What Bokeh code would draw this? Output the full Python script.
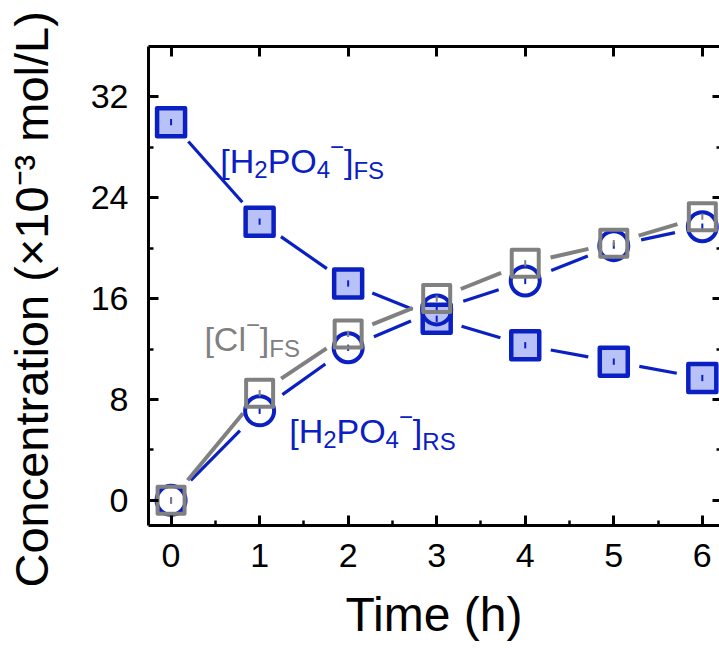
import math
from bokeh.plotting import figure
from bokeh.models import Range1d, LinearAxis, FixedTicker, Label, Title
from bokeh.embed import file_html
from bokeh.resources import INLINE

# ---------------- data ----------------
time_h = [0, 1, 2, 3, 4, 5, 6]
h2po4_fs = [30.0, 22.1, 17.2, 14.4, 12.3, 11.0, 9.7]
cl_fs = [0.0, 8.5, 13.2, 16.0, 18.8, 20.4, 22.5]
h2po4_rs = [0.0, 7.1, 12.1, 15.1, 17.4, 20.2, 21.7]
err_h2po4_fs = [0.25, 0.25, 0.25, 0.25, 0.25, 0.25, 0.25]
err_cl_fs = [0.25, 0.25, 0.25, 0.25, 0.25, 0.25, 0.25]
err_h2po4_rs = [0.25, 0.25, 0.25, 0.25, 0.25, 0.25, 0.25]
x_ticks = [0, 1, 2, 3, 4, 5, 6]
x_minor = [0.5, 1.5, 2.5, 3.5, 4.5, 5.5]
y_ticks = [0, 8, 16, 24, 32]
y_minor = [4, 12, 20, 28]
x_title = "Time (h)"
y_title = "Concentration (\u00d710\u207b\u00b3 mol/L)"

# ---------------- layout ----------------
W, H = 719, 648
BL, BR, BT, BB = 147, 0, 46, 123   # frame borders in page pixels
X0, X1 = -0.255, 6.194
Y0, Y1 = -2.0, 36.0
SX = (W - BL - BR) / (X1 - X0)
SY = (H - BT - BB) / (Y1 - Y0)

BLUE = "#0a20c2"
LIGHT = "#b8c2f8"
GRAY = "#808080"
FONT = "Liberation Sans"


def dx(px):
    return X0 + (px - BL) / SX


def dy(py):
    return Y0 + (H - BB - py) / SY


p = figure(width=W, height=H, x_range=Range1d(X0, X1), y_range=Range1d(Y0, Y1),
           output_backend="svg", toolbar_location=None,
           min_border_left=BL, min_border_right=BR, min_border_top=BT, min_border_bottom=BB,
           outline_line_color=None, background_fill_color="white", border_fill_color="white")
p.grid.visible = False

top_axis = LinearAxis()
right_axis = LinearAxis()
p.add_layout(top_axis, "above")
p.add_layout(right_axis, "right")

for ax in [p.below[0], top_axis]:
    ax.ticker = FixedTicker(ticks=x_ticks, minor_ticks=x_minor)
for ax in [p.left[0], right_axis]:
    ax.ticker = FixedTicker(ticks=y_ticks, minor_ticks=y_minor)

for ax in [p.below[0], p.left[0], top_axis, right_axis]:
    ax.axis_line_width = 3
    ax.axis_line_color = "black"
    ax.major_tick_line_width = 3
    ax.minor_tick_line_width = 2.5
    ax.major_tick_line_color = "black"
    ax.minor_tick_line_color = "black"
    ax.major_tick_in = 10
    ax.major_tick_out = 0
    ax.minor_tick_in = 5
    ax.minor_tick_out = 0
    ax.major_label_text_font = FONT
    ax.major_label_text_font_size = "34px"
    ax.major_label_text_color = "black"

for ax in [top_axis, right_axis]:
    ax.major_label_text_font_size = "1px"
    ax.major_label_text_color = None
    ax.major_label_standoff = 0
    ax.axis_label = None
top_axis.minor_tick_line_color = None
right_axis.axis_line_color = None
right_axis.major_tick_in = 7
right_axis.minor_tick_in = 3

xa = p.below[0]
ya = p.left[0]
ya.major_label_standoff = 20
xa.major_label_standoff = 18
xa.axis_label = x_title
xa.axis_label_text_font = FONT
xa.axis_label_text_font_style = "normal"
xa.axis_label_text_color = "black"
xa.axis_label_text_font_size = "48px"
xa.axis_label_standoff = 18

# spacer: an undrawn axis label widens the left axis so the title sits further left
ya.axis_label = " "
ya.axis_label_text_font_size = "1px"
ya.axis_label_text_color = None
ya.axis_label_standoff = 24

# y title as a left-side title, started below the frame bottom like the reference
p.add_layout(Title(text=y_title, align="left", offset=-62, standoff=4,
                   text_font=FONT, text_font_size="47px", text_font_style="normal",
                   text_color="black"), "left")


# ---------------- lines with gaps around symbols ----------------
def gapped(xs, ys, gap):
    a, b, c, d = [], [], [], []
    for i in range(len(xs) - 1):
        ddx = (xs[i + 1] - xs[i]) * SX
        ddy = (ys[i + 1] - ys[i]) * SY
        dist = math.hypot(ddx, ddy)
        if dist <= 2 * gap:
            continue
        f = gap / dist
        a.append(xs[i] + (xs[i + 1] - xs[i]) * f)
        b.append(ys[i] + (ys[i + 1] - ys[i]) * f)
        c.append(xs[i + 1] - (xs[i + 1] - xs[i]) * f)
        d.append(ys[i + 1] - (ys[i + 1] - ys[i]) * f)
    return a, b, c, d


for ys, col, lw, gap in [(h2po4_fs, BLUE, 3.2, 26), (h2po4_rs, BLUE, 3.2, 28), (cl_fs, GRAY, 4, 26)]:
    a, b, c, d = gapped(time_h, ys, gap)
    p.segment(x0=a, y0=b, x1=c, y1=d, line_color=col, line_width=lw)


def errbars(ys, es, col):
    p.segment(x0=time_h, y0=[y - e for y, e in zip(ys, es)],
              x1=time_h, y1=[y + e for y, e in zip(ys, es)],
              line_color=col, line_width=2)


p.scatter(time_h, h2po4_fs, marker="square", size=28, fill_color=LIGHT,
          line_color=BLUE, line_width=4.5, line_join="round")
errbars(h2po4_fs, err_h2po4_fs, BLUE)
p.scatter(time_h, h2po4_rs, marker="circle", size=29, fill_color=None,
          line_color=BLUE, line_width=4)
errbars(h2po4_rs, err_h2po4_rs, BLUE)
p.scatter(time_h, cl_fs, marker="square", size=27, fill_color=None,
          line_color=GRAY, line_width=4, line_join="round")
errbars(cl_fs, err_cl_fs, GRAY)

# ---------------- rich text labels ----------------
WID = {'[': 278, ']': 278, 'H': 722, 'P': 667, 'O': 778, '2': 556, '4': 556,
       '\u2212': 584, 'F': 611, 'S': 667, 'R': 722, 'C': 722, 'l': 222}


def tw(s, size):
    return sum(WID.get(ch, 556) for ch in s) * size / 1000.0


def rich(pieces, x_px, y_px, color):
    adv = 0.0
    for text, size, shift in pieces:
        p.add_layout(Label(x=dx(x_px + adv), y=dy(y_px - shift), text=text, text_font=FONT,
                           text_font_size=f"{size}px", text_color=color,
                           text_align="left", text_baseline="alphabetic"))
        adv += tw(text, size)


M, S = 34, 24
rich([("[H", M, 0), ("2", S, -9), ("PO", M, 0), ("4", S, -9), ("\u2212", S, 14),
      ("]", M, 0), ("FS", S, -10)], 219, 160, BLUE)
rich([("[Cl", M, 0), ("\u2212", S, 14), ("]", M, 0), ("FS", S, -10)], 203, 338, GRAY)
rich([("[H", M, 0), ("2", S, -9), ("PO", M, 0), ("4", S, -9), ("\u2212", S, 14),
      ("]", M, 0), ("RS", S, -11)], 288, 430, BLUE)

open("out.html", "w").write(file_html(p, INLINE))
